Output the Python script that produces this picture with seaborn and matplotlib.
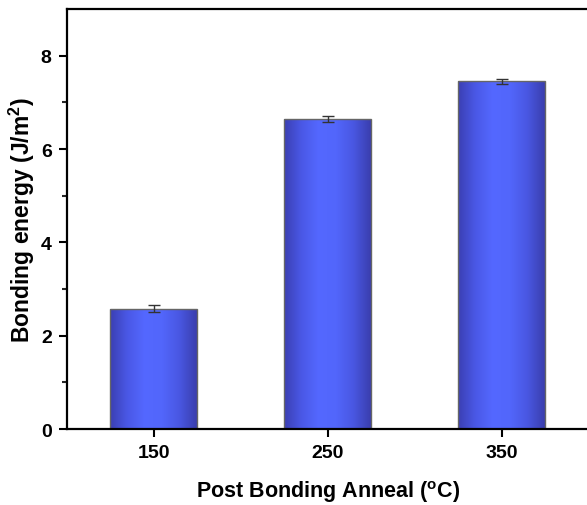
import numpy as np
import pandas as pd
import matplotlib
matplotlib.use("Agg")
import matplotlib.pyplot as plt
from matplotlib.colors import LinearSegmentedColormap
import seaborn as sns

# Data
temps = ["150", "250", "350"]
energy = [2.58, 6.64, 7.45]
energy_err = [0.08, 0.06, 0.06]

sns.set_style("ticks")
plt.rcParams["font.family"] = ["Liberation Sans", "DejaVu Sans"]
plt.rcParams["font.weight"] = "bold"
plt.rcParams["text.color"] = "black"
plt.rcParams["axes.labelcolor"] = "black"
plt.rcParams["mathtext.fontset"] = "custom"
plt.rcParams["mathtext.rm"] = "Liberation Sans:bold"
plt.rcParams["mathtext.bf"] = "Liberation Sans:bold"

df = pd.DataFrame({"temp": temps, "energy": energy})

fig = plt.figure(figsize=(5.87, 5.06), dpi=100)
ax = fig.add_axes([0.114, 0.150, 0.889, 0.830])

sns.barplot(data=df, x="temp", y="energy", width=0.5, errorbar=None,
            color="#5468ff", edgecolor="#666666", linewidth=1.0, ax=ax)

# horizontal gradient fill, dark edges -> light center
cmap = LinearSegmentedColormap.from_list(
    "bar", ["#3b3fb2", "#4a58e6", "#5468ff", "#5266fb", "#4957e2", "#3a3eae"])
grad = np.linspace(0, 1, 256).reshape(1, -1)
for p in ax.patches:
    x0, w, h = p.get_x(), p.get_width(), p.get_height()
    im = ax.imshow(grad, cmap=cmap, aspect="auto", extent=[x0, x0 + w, 0, h],
                   zorder=p.get_zorder(), interpolation="bicubic")
    im.set_clip_path(p)
    p.set_facecolor("none")
    p.set_zorder(p.get_zorder() + 0.1)

ax.errorbar(range(len(temps)), energy, yerr=energy_err, fmt="none",
            ecolor="#333333", elinewidth=1.0, capsize=4, capthick=1.0, zorder=5)

ax.set_xlim(-0.5, 2.5)
ax.set_ylim(0, 9)
ax.set_yticks([0, 2, 4, 6, 8])
ax.set_yticks([1, 3, 5, 7], minor=True)

for side in ["left", "bottom", "top", "right"]:
    ax.spines[side].set_visible(True)
    ax.spines[side].set_linewidth(1.6)
    ax.spines[side].set_color("black")

ax.tick_params(axis="both", which="major", direction="out", length=6, width=1.5,
               labelsize=14, colors="black", labelcolor="black", pad=5)
ax.tick_params(axis="y", which="minor", direction="out", length=3.5, width=1.5)
ax.tick_params(top=False, right=False)
for lbl in ax.get_xticklabels() + ax.get_yticklabels():
    lbl.set_fontweight("bold")

ax.set_xlabel(r"Post Bonding Anneal ($^{\mathbf{o}}$C)", fontsize=15.5,
              fontweight="bold", color="black", labelpad=12)
ax.set_ylabel(r"Bonding energy (J/m$^{\mathbf{2}}$)", fontsize=16.5,
              fontweight="bold", color="black", labelpad=3)

fig.savefig("out.png", dpi=100)
